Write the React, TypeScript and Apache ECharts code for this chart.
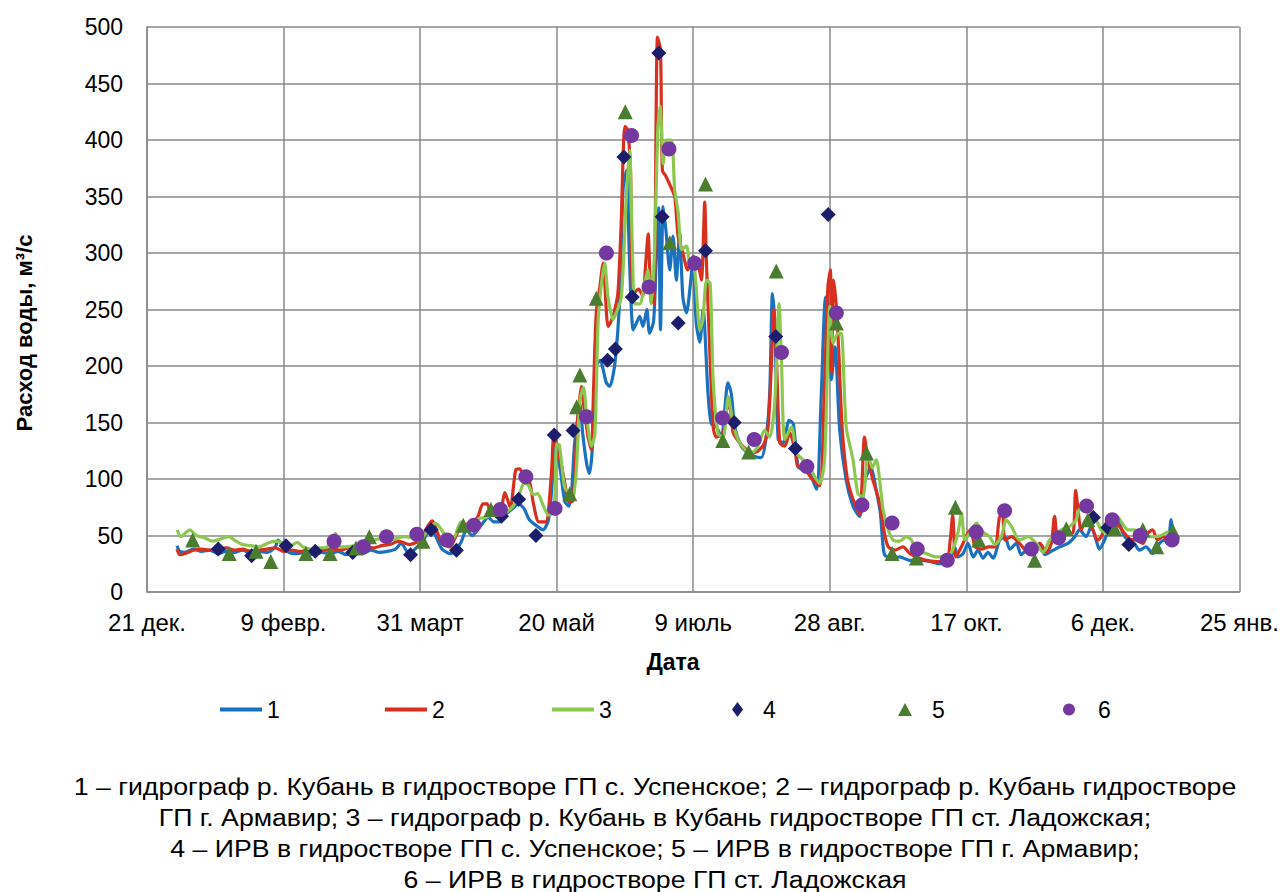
import React, { useEffect, useRef } from "react";
import * as echarts from "echarts";

// x = days counted from 21 Dec (tick every 50 days)
const xTickLabels = ["21 дек.", "9 февр.", "31 март", "20 май", "9 июль", "28 авг.", "17 окт.", "6 дек.", "25 янв."];

// 1 – гидрограф ГП с. Успенское
const hydro1: [number, number][] = [
  [11,41],[12,36],[14,35],[17,38],[20,36],[23,37],[26,34],[29,36],[32,35],[35,37],[38,34],[41,36],[44,35],[47,40],[48,46],[50,40],[52,35],[55,34],[58,35],[61,33],[64,35],[67,34],[70,36],[73,33],[76,36],[79,34],[82,37],[85,35],[88,36],[91,38],[93,43],[96,34],[99,40],
  [101,45],[104,57],[106,48],[108,38],[111,34],[113,37],[115,44],[117,55],[119,50],[122,58],[125,66],[127,62],[129,62],[131,68],[134,74],[136,78],[138,74],[140,64],[143,58],[145,55],[147,64],[148.5,100],[149.7,134],[150.5,120],[151.5,105],[153,80],[154.5,76],[155.5,90],[156.5,130],[157.5,150],[158.5,167],[159.5,141],[161,113],[162,105],[163,125],[164.5,200],[166,205],[167,197],[168.2,185],[169.4,182],[171.3,202],[173.1,261],[174.3,356],[175.5,373],[176.7,291],[178,232],[179.2,238],[180.4,244],[181.6,235],[183,250],[184,229],[185.5,240],[186.5,300],[187.3,340],[188,232],[189,341],[190,320],[191.4,285],[192.6,315],[193.8,276],[195,318],[196.2,261],[197.5,247],[199.9,291],[201.1,238],[202.4,221],[203.6,250],[205.4,176],[206.6,149],[208.5,146],[210.3,137],[212.7,185],[213.9,176],[215.2,146],[217.6,129],[220.1,123],[222.5,120],[224.9,119],[226.7,137],[228,176],[229,264],[229.9,235],[231.1,135],[232.9,132],[235.1,152],[236.6,149],[238.4,111],[240.2,108],[242.6,105],[245.1,91],[246.9,176],[248.5,261],[249.8,250],[250.6,188],[251.9,217],[253.6,144],[256,99],[258.5,76],[260.9,67],[263,100],[265,110],[267,90],[268.5,70],[270,33],
  [272.6,30],[275.6,31],[279.3,28],[282.9,28],[286.6,27],[290.2,25],[293.8,27],[295.7,40],[296.9,31],[298.8,34],[300.6,43],[302.5,31],[304.3,37],[306.1,30],[307.9,35],[309.8,30],[312.2,46],[314.1,49],[315.9,38],[318.3,43],[320.1,33],[322.6,38],[324.4,34],[326.9,43],[328.7,33],[331.8,37],[334.2,40],[337.2,43],[339.7,49],[341.4,55],[343.9,49],[345.7,58],[347.5,46],[348.7,38],[350.6,46],[353,61],[355.4,64],[357.3,52],[359.1,46],[361.5,43],[363.3,37],[365.8,40],[368.2,34],[370.7,43],[372.5,46],[373.7,43],[375,64],[375.5,55],
];

// 2 – гидрограф ГП г. Армавир
const hydro2: [number, number][] = [
  [11,38],[12,33],[14,34],[17,37],[20,38],[23,37],[26,38],[29,39],[32,37],[35,38],[38,36],[41,37],[44,38],[47,39],[50,36],[53,37],[56,36],[59,37],[62,36],[65,37],[68,38],[71,37],[74,39],[77,38],[80,40],[83,39],[86,41],[89,42],[92,45],[96,42],[100,46],
  [103,59],[104.5,63],[106,55],[108,43],[111,40],[113,49],[115,58],[118,61],[121,66],[123,78],[124.5,78],[126,70],[128,77],[129.5,73],[131,88],[133,75],[135,108],[136.5,109],[138,101],[140,98],[141.5,78],[143.5,62],[146,62],[148,102],[149,140],[150.5,120],[151.5,115],[153,96],[154.5,80],[156,81],[157.5,147],[159,182],[160,164],[161.5,137],[162.7,126],[163.5,180],[164.5,247],[165.8,270],[167,291],[168.8,235],[170,240],[171,247],[172.4,264],[173.7,332],[174.3,385],[175,412],[176,409],[177,374],[178,264],[180,268],[181.5,262],[182.6,291],[183.5,317],[184.4,267],[185.6,255],[186.9,491],[188,480],[188.7,373],[190,368],[191.5,360],[193.2,350],[194.5,314],[196,302],[198,285],[200,297],[201.7,291],[203,276],[204.2,345],[204.8,294],[206,217],[207.3,146],[208.5,137],[211,141],[212.2,161],[213.3,165],[214.6,141],[217,132],[219.5,126],[221.9,123],[224.3,126],[226.1,132],[227.4,146],[228.6,200],[229.5,250],[230.5,205],[231.7,132],[233.5,129],[235.3,141],[237.2,126],[238.4,111],[240.2,111],[242,105],[243.9,99],[246.3,94],[248.1,187],[249.3,270],[250.2,285],[250.7,194],[251.3,276],[252.2,258],[253.2,217],[254.5,146],[256.3,102],[258.2,84],[260.9,69],[262.7,137],[264,117],[265.8,99],[268.2,79],[270,52],
  [271.4,40],[273.8,37],[276.8,40],[279.3,34],[281.7,31],[285.4,28],[289,27],[292.7,27],[294.1,46],[295,68],[296.1,31],[298.2,40],[300.5,52],[301.6,55],[303.2,40],[305.6,38],[308.1,40],[310.5,40],[312.1,66],[313.3,69],[314.1,46],[316.5,49],[319.5,43],[322,37],[325,37],[326.9,43],[329.3,35],[331.1,43],[332.3,67],[333.5,46],[335.4,50],[337,52],[339,52],[340,90],[340.8,75],[342,55],[343.9,64],[346.3,55],[348.1,46],[349.4,49],[351.2,61],[352.4,64],[354.2,61],[356,58],[357.9,52],[359.7,47],[362.1,46],[364.6,43],[366.4,52],[368.2,55],[370,46],[371.9,49],[373.7,47],[375.5,49],
];

// 3 – гидрограф ГП ст. Ладожская
const hydro3: [number, number][] = [
  [11,55],[12.5,49],[14,52],[15.7,55],[18,50],[21,48],[24,45],[27,47],[30,49],[32,46],[35,42],[38,41],[41,40],[44,43],[47,45],[49,44],[52,40],[55,44],[57,40],[60,38],[63,39],[66,40],[69,52],[70.5,40],[73,40],[76,41],[79,43],[82,45],[85,47],[88,46],[91,47],[94,49],[97,48],[100,45],
  [102,52],[103.5,55],[105.5,61],[107,58],[109.5,49],[112,47],[115,62],[117,59],[119,61],[121.5,65],[124,66],[126.5,69],[129,73],[131.5,71],[134,76],[136,84],[138,96],[139.5,95],[141.5,86],[143,87],[145,77],[147,68],[149,71],[150,131],[151,130],[152.9,93],[154.8,87],[156,84],[157.2,108],[158.5,170],[159.8,181],[161,155],[162.7,129],[164,140],[165.2,241],[166.4,273],[167.6,291],[168.8,261],[170.6,241],[171.8,247],[173.7,261],[175.5,350],[176.7,391],[177.7,306],[178.6,255],[180.4,255],[182.2,273],[183.4,285],[184.6,255],[185.8,300],[187,409],[187.9,430],[189,379],[190.1,400],[192,400],[193.2,356],[194.5,335],[195.7,303],[197.5,306],[198.7,291],[200.5,285],[202.4,232],[203.5,241],[204.9,276],[206.2,273],[207.3,187],[209.1,140],[211,137],[212.8,173],[214.6,149],[216.4,135],[218.9,126],[221.3,123],[223.7,129],[226.1,143],[228,137],[229.9,170],[231.4,255],[232.3,205],[233.5,135],[236,146],[237.8,123],[240.2,117],[242.6,111],[244.5,102],[246.3,96],[248.1,117],[250,253],[251.2,220],[253,229],[254.2,229],[256,146],[258.5,117],[260.3,87],[262.1,84],[264,123],[265.5,110],[267,117],[268.8,87],[269.5,73],
  [271.4,55],[273.2,46],[275.6,45],[278,49],[279.9,46],[281.7,37],[285.4,34],[289,31],[292,31],[294.5,35],[296.9,52],[298.2,70],[299.4,46],[301.2,52],[303.7,61],[306.1,53],[308.5,49],[310.4,42],[312.8,49],[314.6,64],[316.5,58],[319.5,46],[322.6,49],[325.6,43],[328.1,35],[330.5,46],[333,52],[334.7,55],[337.8,58],[340.2,64],[341.4,73],[343.9,75],[345.7,69],[347.5,64],[349.3,55],[351.2,52],[353,62],[355.4,66],[357.3,60],[359.1,55],[361.5,55],[364,50],[366.4,49],[368.8,49],[371.3,50],[373.7,53],[375.5,52],
];

// 4 – ИРВ ГП с. Успенское
const irv4: [number, number][] = [
  [26.1,38],[38.3,32],[50.9,41],[61.6,36],[75.3,35],[96.5,33],[104,55],[113.3,37],[129.8,67],[136.1,82],[142.4,50],[149.1,139],[156,143],[168.6,205],[171.5,215],[174.6,385],[177.7,261],[187.4,477],[188.6,332],[194.5,238],[204.5,302],[215,150],[230.2,226],[237.4,127],[249.4,334],[346.5,66],[351.8,57],[359.5,42],
];

// 5 – ИРВ ГП г. Армавир
const irv5: [number, number][] = [
  [16.7,46],[30.1,34],[39.9,36],[45.3,27],[58.2,34],[67,34],[76.5,39],[81.4,49],[101,45],[115.8,59],[125.9,73],[154.8,87],[157.3,164],[158.5,192],[164.5,260],[175.1,425],[191.4,309],[204.5,361],[210.8,134],[220.3,124],[230.4,284],[252.4,238],[263.4,123],[272.8,34],[281.7,30],[296,75],[304.5,46],[325,28],[336.6,56],[344.5,64],[354.3,56],[364.6,55],[369.7,40],[375.6,54],
];

// 6 – ИРВ ГП ст. Ладожская
const irv6: [number, number][] = [
  [68.5,45],[79.2,40],[87.7,49],[98.8,51],[109.9,46],[119.7,59],[129.4,73],[138.7,102],[149.4,74],[160.9,155],[168.2,300],[177.4,404],[183.8,270],[191.1,392],[200.5,291],[210.7,154],[222.3,135],[232.3,212],[241.6,111],[252.4,247],[261.8,77],[272.8,61],[282,38],[293,28],[303.6,53],[314,72],[323.8,38],[333.8,48],[344,76],[353.4,64],[363.6,50],[375.3,46],
];

const captionLines = [
  "1 – гидрограф р. Кубань в гидростворе ГП с. Успенское; 2 – гидрограф р. Кубань гидростворе",
  "ГП г. Армавир; 3 – гидрограф р. Кубань в Кубань гидростворе ГП ст. Ладожская;",
  "4 – ИРВ в гидростворе ГП с. Успенское; 5 – ИРВ в гидростворе ГП г. Армавир;",
  "6 – ИРВ в гидростворе ГП ст. Ладожская",
];

const FONT = "'Liberation Sans', Arial, sans-serif";
const GRID = "#8a8a8a";
const LINE_ICON = "path://M0,0H42V4H0Z";

export default function App() {
  const ref = useRef<HTMLDivElement>(null);
  useEffect(() => {
    if (!ref.current) return;
    const chart = echarts.init(ref.current, undefined, { renderer: "svg" });
    const lineSeries = (name: string, data: [number, number][], color: string) => ({
      name,
      type: "line",
      data,
      symbol: "none",
      smooth: 0.25,
      lineStyle: { color, width: 3.2 },
      itemStyle: { color },
      z: 2,
    });
    const scatterSeries = (name: string, data: [number, number][], color: string, symbol: string, size: number) => ({
      name,
      type: "scatter",
      data,
      symbol,
      symbolSize: size,
      itemStyle: { color, opacity: 1 },
      z: 3,
    });
    const legendItem = (name: string, left: number, icon: string, w: number, h: number, pad: number) => ({
      left,
      top: 698,
      padding: 0,
      itemWidth: w,
      itemHeight: h,
      textStyle: { fontSize: 23, color: "#000", fontFamily: FONT, padding: [0, 0, 0, pad] },
      data: [{ name, icon }],
    });
    chart.setOption({
      animation: false,
      textStyle: { fontFamily: FONT },
      grid: { left: 147, right: 42, top: 27, bottom: 300, containLabel: false },
      xAxis: {
        type: "value",
        min: 0,
        max: 400,
        interval: 50,
        axisLine: { show: true, lineStyle: { color: GRID, width: 1.5 } },
        axisTick: { show: false },
        splitLine: { show: true, lineStyle: { color: GRID, width: 1.5 } },
        axisLabel: {
          fontSize: 24,
          color: "#000",
          margin: 18,
          fontFamily: FONT,
          formatter: (v: number) => xTickLabels[Math.round(v / 50)] ?? "",
        },
      },
      yAxis: {
        type: "value",
        min: 0,
        max: 500,
        interval: 50,
        axisLine: { show: true, lineStyle: { color: GRID, width: 1.5 } },
        axisTick: { show: false },
        splitLine: { show: true, lineStyle: { color: GRID, width: 1.5 } },
        axisLabel: { fontSize: 23, color: "#000", margin: 24, fontFamily: FONT },
      },
      legend: [
        legendItem("1", 220, LINE_ICON, 42, 14, 0),
        legendItem("2", 385, LINE_ICON, 42, 14, 0),
        legendItem("3", 552, LINE_ICON, 42, 14, 0),
        legendItem("4", 732, "diamond", 11, 15, 15),
        legendItem("5", 898, "triangle", 14, 13, 15),
        legendItem("6", 1063, "circle", 12, 12, 18),
      ],
      graphic: [
        {
          type: "text",
          x: 673,
          y: 662,
          style: { text: "Дата", font: `bold 23px ${FONT}`, fill: "#000", textAlign: "center", textVerticalAlign: "middle" },
        },
        {
          type: "text",
          x: 24,
          y: 333,
          rotation: Math.PI / 2,
          style: { text: "Расход воды, м³/с", font: `bold 22px ${FONT}`, fill: "#000", textAlign: "center", textVerticalAlign: "middle" },
        },
        ...captionLines.map((t, i) => ({
          type: "text",
          x: 655,
          y: 787 + i * 31,
          scaleX: 1.16,
          style: { text: t, font: `23px ${FONT}`, fill: "#000", textAlign: "center", textVerticalAlign: "middle" },
        })),
      ],
      series: [
        lineSeries("1", hydro1, "#1a71bf"),
        lineSeries("2", hydro2, "#d7301f"),
        lineSeries("3", hydro3, "#8cc850"),
        scatterSeries("4", irv4, "#1c1d6b", "diamond", 15),
        scatterSeries("5", irv5, "#4a7d2f", "triangle", 15),
        scatterSeries("6", irv6, "#7537a0", "circle", 15),
      ],
    });
    return () => chart.dispose();
  }, []);
  return <div ref={ref} style={{ position: "absolute", left: 0, top: 0, width: 1282, height: 892 }} />;
}
